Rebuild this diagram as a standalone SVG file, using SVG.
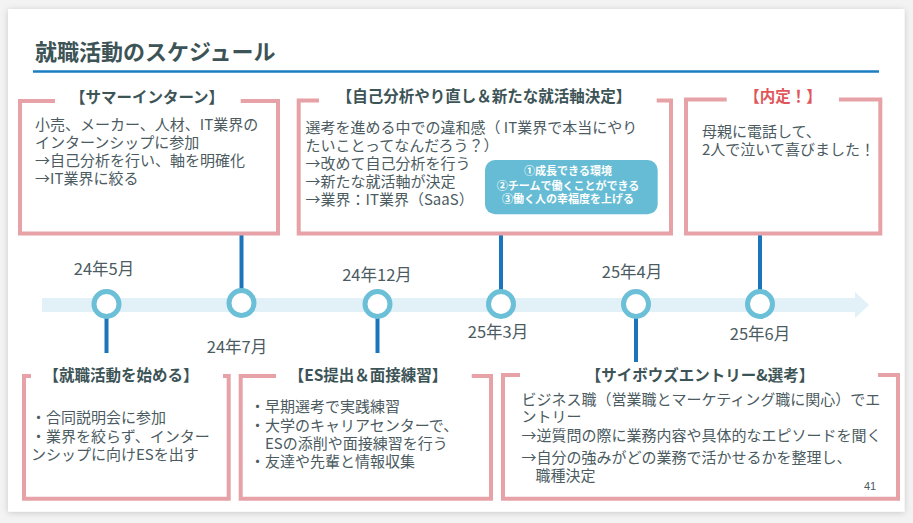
<svg xmlns="http://www.w3.org/2000/svg" width="913" height="523" viewBox="0 0 913 523">
  <defs>
    <filter id="shadow" x="-5%" y="-5%" width="110%" height="110%">
      <feDropShadow dx="0" dy="1" stdDeviation="3" flood-color="#000" flood-opacity="0.18"/>
    </filter>
  </defs>
  <style>
    text { font-family: "Noto Sans CJK JP", "Noto Sans", sans-serif; }
    .frame { fill: #ffffff; stroke: #e6a2a6; stroke-width: 4; stroke-linecap: butt; stroke-linejoin: miter; }
    .ttl { font-size: 15.5px; font-weight: bold; fill: #3d5457; text-anchor: middle; }
    .body { font-size: 15px; fill: #4b5b5f; }
    .date { font-size: 16.5px; fill: #4b5b5f; text-anchor: middle; }
    .conn { stroke: #1b75bb; stroke-width: 4; }
    .dot { fill: #ffffff; stroke: #6bbfd7; stroke-width: 5; }
    .tag { font-size: 11px; font-weight: bold; fill: #ffffff; text-anchor: middle; }
  </style>

  <rect x="0" y="0" width="913" height="523" fill="#f3f3f3"/>
  <rect x="8" y="9" width="896.5" height="502.7" fill="#ffffff" filter="url(#shadow)"/>

  <g id="title">
    <text x="35" y="60" font-size="22" font-weight="bold" fill="#3d5457">就職活動のスケジュール</text>
    <line x1="33" y1="71.5" x2="879" y2="71.5" stroke="#1a7ec2" stroke-width="2.5"/>
  </g>

  <g id="timeline">
    <polygon points="42,298 855,298 855,292 869,305 855,318 855,312 42,312" fill="#e1f1f7"/>
  </g>

  <g id="connectors">
    <line class="conn" x1="241.5" y1="235" x2="241.5" y2="289"/>
    <line class="conn" x1="501" y1="235" x2="501" y2="291"/>
    <line class="conn" x1="760" y1="235" x2="760" y2="291"/>
    <line class="conn" x1="106.5" y1="318" x2="106.5" y2="353"/>
    <line class="conn" x1="377.5" y1="318" x2="377.5" y2="353"/>
    <line class="conn" x1="636" y1="318" x2="636" y2="362"/>
  </g>

  <g id="milestones">
    <circle class="dot" cx="106.5" cy="304" r="12.5"/>
    <circle class="dot" cx="241.5" cy="303" r="12.5"/>
    <circle class="dot" cx="377.5" cy="304" r="12.5"/>
    <circle class="dot" cx="501" cy="304" r="12.5"/>
    <circle class="dot" cx="636" cy="304" r="12.5"/>
    <circle class="dot" cx="760" cy="304" r="12.5"/>
    <text class="date" x="104" y="275">24年5月</text>
    <text class="date" x="237" y="353">24年7月</text>
    <text class="date" x="377" y="281">24年12月</text>
    <text class="date" x="498" y="338">25年3月</text>
    <text class="date" x="632" y="278">25年4月</text>
    <text class="date" x="760" y="340">25年6月</text>
  </g>

  <g id="summer-intern">
    <path class="frame" d="M55,101 H20 V233.5 H278 V101 H240.7"/>
    <text class="ttl" x="147" y="103">【サマーインターン】</text>
    <text class="body" x="35" y="130">小売、メーカー、人材、IT業界の</text>
    <text class="body" x="35" y="148">インターンシップに参加</text>
    <text class="body" x="35" y="166">→自己分析を行い、軸を明確化</text>
    <text class="body" x="35" y="184">→IT業界に絞る</text>
  </g>

  <g id="reanalysis">
    <path class="frame" d="M319,100.5 H298.7 V233.5 H671 V100.5 H656.7"/>
    <text class="ttl" x="484" y="102">【自己分析やり直し＆新たな就活軸決定】</text>
    <text class="body" x="305.5" y="133">選考を進める中での違和感（ IT業界で本当にやり</text>
    <text class="body" x="305.5" y="151">たいことってなんだろう？）</text>
    <text class="body" x="305.5" y="169">→改めて自己分析を行う</text>
    <text class="body" x="305.5" y="187">→新たな就活軸が決定</text>
    <text class="body" x="305.5" y="205">→業界：IT業界（SaaS）</text>
    <g id="axis-tag">
      <rect x="485" y="160" width="172.7" height="54.3" rx="10" fill="#65bcd4"/>
      <text class="tag" x="568" y="175">①成長できる環境</text>
      <text class="tag" x="568" y="189.5">②チームで働くことができる</text>
      <text class="tag" x="568" y="203">③働く人の幸福度を上げる</text>
    </g>
  </g>

  <g id="offer">
    <path class="frame" d="M726.7,99.5 H686 V233.5 H880.3 V99.5 H839"/>
    <text class="ttl" x="783" y="102" style="fill:#e0565b">【内定！】</text>
    <text class="body" x="702" y="137">母親に電話して、</text>
    <text class="body" x="702" y="155">2人で泣いて喜びました！</text>
  </g>

  <g id="start">
    <path class="frame" d="M31,376 H24 V498.7 H228.7 V376 H223"/>
    <text class="ttl" x="121" y="381">【就職活動を始める】</text>
    <text class="body" x="31" y="423">・合同説明会に参加</text>
    <text class="body" x="31" y="442">・業界を絞らず、インター</text>
    <text class="body" x="31" y="460">ンシップに向けESを出す</text>
  </g>

  <g id="es-interview">
    <path class="frame" d="M276,376 H240.7 V498.7 H491 V376 H471.7"/>
    <text class="ttl" x="368" y="381">【ES提出＆面接練習】</text>
    <text class="body" x="250" y="412">・早期選考で実践練習</text>
    <text class="body" x="250" y="431">・大学のキャリアセンターで、</text>
    <text class="body" x="265" y="449">ESの添削や面接練習を行う</text>
    <text class="body" x="250" y="467">・友達や先輩と情報収集</text>
  </g>

  <g id="cybozu">
    <path class="frame" d="M520,375 H503 V498.7 H898 V375 H878"/>
    <text class="ttl" x="700" y="381">【サイボウズエントリー&amp;選考】</text>
    <text class="body" x="521.5" y="405">ビジネス職（営業職とマーケティング職に関心）でエ</text>
    <text class="body" x="521.5" y="422">ントリー</text>
    <text class="body" x="521.5" y="440.5">→逆質問の際に業務内容や具体的なエピソードを聞く</text>
    <text class="body" x="521.5" y="463">→自分の強みがどの業務で活かせるかを整理し、</text>
    <text class="body" x="535.5" y="480.5">職種決定</text>
  </g>

  <text x="870" y="490" font-size="11" fill="#4b5b5f" text-anchor="middle" style="font-family:'Liberation Sans', sans-serif">41</text>
</svg>
